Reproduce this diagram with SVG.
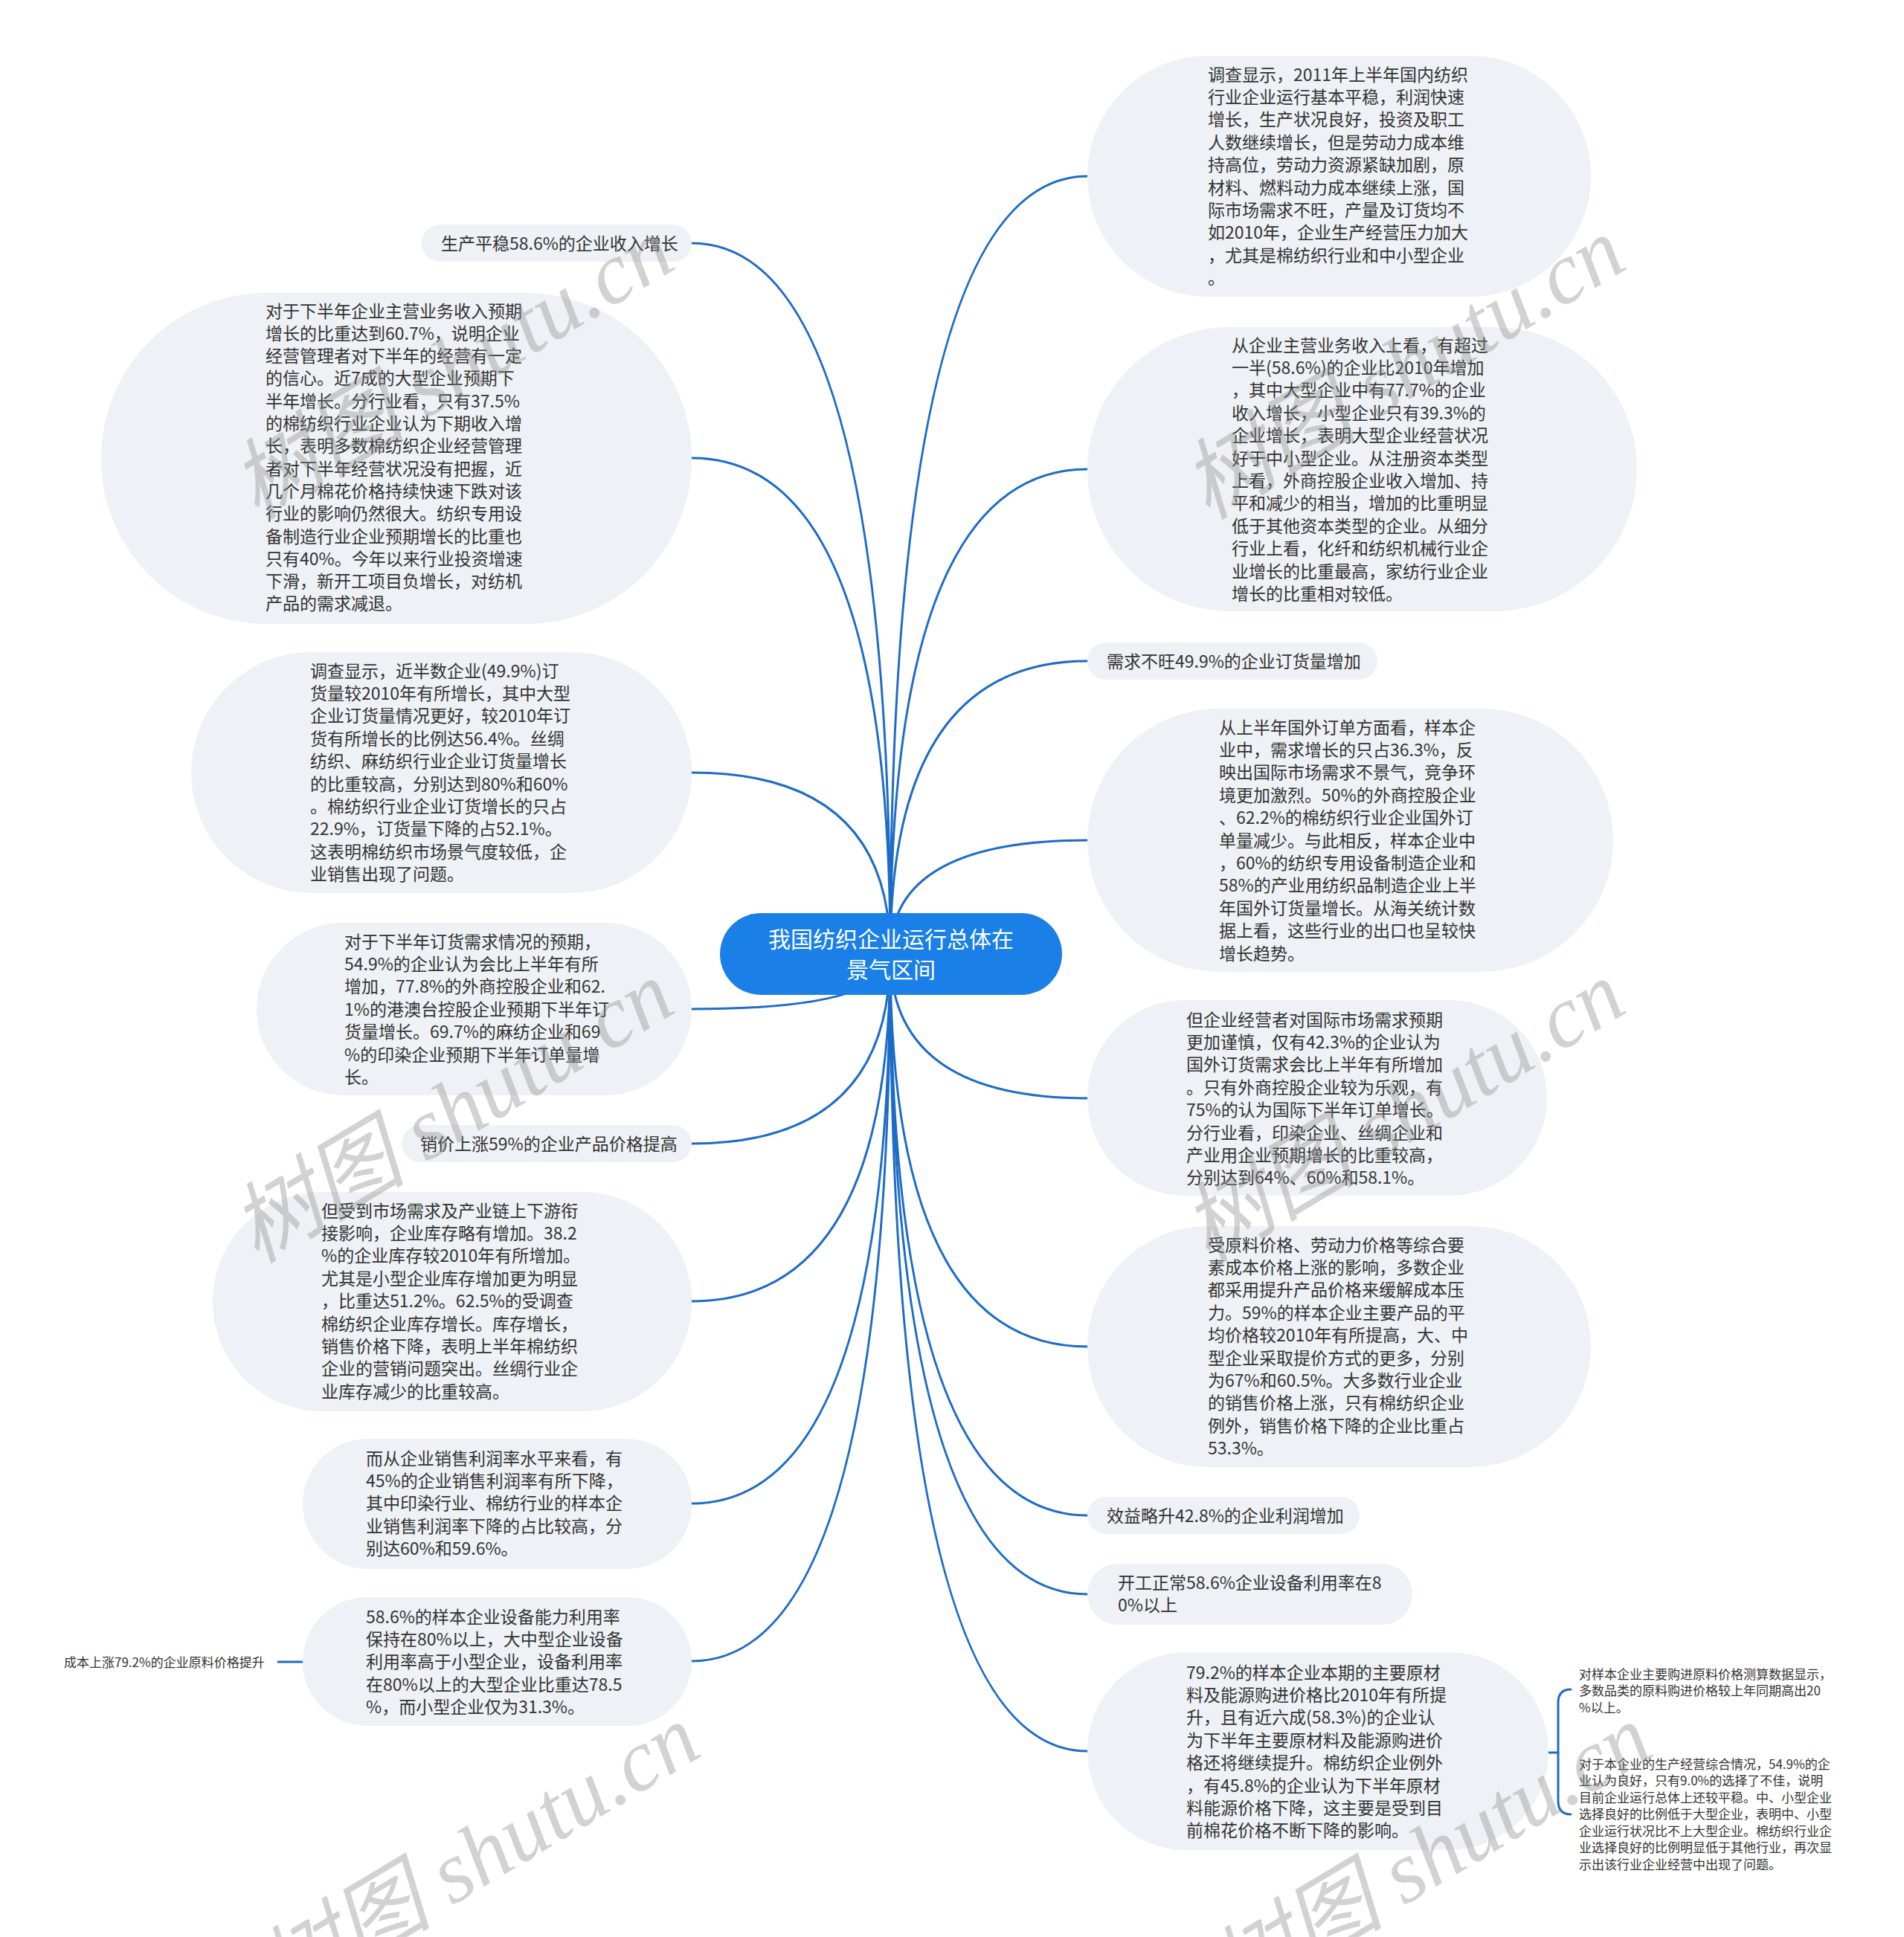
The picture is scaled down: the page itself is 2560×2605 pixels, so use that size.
<svg xmlns="http://www.w3.org/2000/svg" width="2560" height="2605" viewBox="0 0 2560 2605">
<style>
.bg{fill:#ffffff}
.node rect{fill:#eef1f5}
.t{font-family:"Noto Sans CJK SC","Liberation Sans",sans-serif;font-size:23px;fill:#333333}
.s{font-size:17px}
#root rect{fill:#1a7fe6}
#root text{font-family:"Noto Sans CJK SC","Liberation Sans",sans-serif;font-size:30px;fill:#ffffff;text-anchor:middle}
#connectors path{fill:none;stroke:#1c6cc8;stroke-width:3;stroke-linecap:round}
.wm{font-family:"Liberation Serif","Noto Sans CJK SC",serif;font-style:italic;font-size:118px;fill:#8c8c8c;opacity:0.38}
</style>
<rect class="bg" x="0" y="0" width="2560" height="2605"/>
<g id="connectors">
<path d="M1197 1283 Q1197 237 1462 237"/>
<path d="M1197 1283 Q1197 631 1462 631"/>
<path d="M1197 1283 Q1197 889 1462 889"/>
<path d="M1197 1283 Q1197 1130 1462 1130"/>
<path d="M1197 1283 Q1197 1477 1462 1477"/>
<path d="M1197 1283 Q1197 1811 1462 1811"/>
<path d="M1197 1283 Q1197 2038 1462 2038"/>
<path d="M1197 1283 Q1197 2144 1462 2144"/>
<path d="M1197 1283 Q1197 2355 1462 2355"/>
<path d="M1197 1283 Q1197 327 930 327"/>
<path d="M1197 1283 Q1197 616 930 616"/>
<path d="M1197 1283 Q1197 1039 930 1039"/>
<path d="M1197 1283 Q1197 1357 930 1357"/>
<path d="M1197 1283 Q1197 1538 930 1538"/>
<path d="M1197 1283 Q1197 1750 930 1750"/>
<path d="M1197 1283 Q1197 2022 930 2022"/>
<path d="M1197 1283 Q1197 2234 930 2234"/>
<path d="M407 2235 H374"/>
<path d="M2082 2357 H2095"/>
<path d="M2112 2272 Q2095 2272 2095 2290 V2422 Q2095 2440 2112 2440"/>
</g>

<g id="R1" class="node"><rect x="1462" y="75" width="677" height="324" rx="162"/>
<text class="t" x="1624" y="108.5"><tspan x="1624">调查显示，2011年上半年国内纺织</tspan><tspan x="1624" dy="30.4">行业企业运行基本平稳，利润快速</tspan><tspan x="1624" dy="30.4">增长，生产状况良好，投资及职工</tspan><tspan x="1624" dy="30.4">人数继续增长，但是劳动力成本维</tspan><tspan x="1624" dy="30.4">持高位，劳动力资源紧缺加剧，原</tspan><tspan x="1624" dy="30.4">材料、燃料动力成本继续上涨，国</tspan><tspan x="1624" dy="30.4">际市场需求不旺，产量及订货均不</tspan><tspan x="1624" dy="30.4">如2010年，企业生产经营压力加大</tspan><tspan x="1624" dy="30.4">，尤其是棉纺织行业和中小型企业</tspan><tspan x="1624" dy="30.4">。</tspan></text></g>

<g id="R2" class="node"><rect x="1462" y="440" width="739" height="382" rx="191"/>
<text class="t" x="1656" y="472.5"><tspan x="1656">从企业主营业务收入上看，有超过</tspan><tspan x="1656" dy="30.4">一半(58.6%)的企业比2010年增加</tspan><tspan x="1656" dy="30.4">，其中大型企业中有77.7%的企业</tspan><tspan x="1656" dy="30.4">收入增长，小型企业只有39.3%的</tspan><tspan x="1656" dy="30.4">企业增长，表明大型企业经营状况</tspan><tspan x="1656" dy="30.4">好于中小型企业。从注册资本类型</tspan><tspan x="1656" dy="30.4">上看，外商控股企业收入增加、持</tspan><tspan x="1656" dy="30.4">平和减少的相当，增加的比重明显</tspan><tspan x="1656" dy="30.4">低于其他资本类型的企业。从细分</tspan><tspan x="1656" dy="30.4">行业上看，化纤和纺织机械行业企</tspan><tspan x="1656" dy="30.4">业增长的比重最高，家纺行业企业</tspan><tspan x="1656" dy="30.4">增长的比重相对较低。</tspan></text></g>

<g id="R3" class="node"><rect x="1462" y="864" width="390" height="50" rx="25"/>
<text class="t" x="1488" y="897.5">需求不旺49.9%的企业订货量增加</text></g>

<g id="R4" class="node"><rect x="1462" y="953" width="707" height="354" rx="177"/>
<text class="t" x="1639" y="986.5"><tspan x="1639">从上半年国外订单方面看，样本企</tspan><tspan x="1639" dy="30.4">业中，需求增长的只占36.3%，反</tspan><tspan x="1639" dy="30.4">映出国际市场需求不景气，竞争环</tspan><tspan x="1639" dy="30.4">境更加激烈。50%的外商控股企业</tspan><tspan x="1639" dy="30.4">、62.2%的棉纺织行业企业国外订</tspan><tspan x="1639" dy="30.4">单量减少。与此相反，样本企业中</tspan><tspan x="1639" dy="30.4">，60%的纺织专用设备制造企业和</tspan><tspan x="1639" dy="30.4">58%的产业用纺织品制造企业上半</tspan><tspan x="1639" dy="30.4">年国外订货量增长。从海关统计数</tspan><tspan x="1639" dy="30.4">据上看，这些行业的出口也呈较快</tspan><tspan x="1639" dy="30.4">增长趋势。</tspan></text></g>

<g id="R5" class="node"><rect x="1462" y="1345" width="618" height="263" rx="131"/>
<text class="t" x="1595" y="1379.5"><tspan x="1595">但企业经营者对国际市场需求预期</tspan><tspan x="1595" dy="30.4">更加谨慎，仅有42.3%的企业认为</tspan><tspan x="1595" dy="30.4">国外订货需求会比上半年有所增加</tspan><tspan x="1595" dy="30.4">。只有外商控股企业较为乐观，有</tspan><tspan x="1595" dy="30.4">75%的认为国际下半年订单增长。</tspan><tspan x="1595" dy="30.4">分行业看，印染企业、丝绸企业和</tspan><tspan x="1595" dy="30.4">产业用企业预期增长的比重较高，</tspan><tspan x="1595" dy="30.4">分别达到64%、60%和58.1%。</tspan></text></g>

<g id="R6" class="node"><rect x="1462" y="1649" width="677" height="324" rx="162"/>
<text class="t" x="1624" y="1682.5"><tspan x="1624">受原料价格、劳动力价格等综合要</tspan><tspan x="1624" dy="30.4">素成本价格上涨的影响，多数企业</tspan><tspan x="1624" dy="30.4">都采用提升产品价格来缓解成本压</tspan><tspan x="1624" dy="30.4">力。59%的样本企业主要产品的平</tspan><tspan x="1624" dy="30.4">均价格较2010年有所提高，大、中</tspan><tspan x="1624" dy="30.4">型企业采取提价方式的更多，分别</tspan><tspan x="1624" dy="30.4">为67%和60.5%。大多数行业企业</tspan><tspan x="1624" dy="30.4">的销售价格上涨，只有棉纺织企业</tspan><tspan x="1624" dy="30.4">例外，销售价格下降的企业比重占</tspan><tspan x="1624" dy="30.4">53.3%。</tspan></text></g>

<g id="R7" class="node"><rect x="1462" y="2013" width="366" height="50" rx="25"/>
<text class="t" x="1488" y="2046.5">效益略升42.8%的企业利润增加</text></g>

<g id="R8" class="node"><rect x="1462" y="2103" width="437" height="82" rx="41"/>
<text class="t" x="1503" y="2136.5"><tspan x="1503">开工正常58.6%企业设备利用率在8</tspan><tspan x="1503" dy="30.4">0%以上</tspan></text></g>

<g id="R9" class="node"><rect x="1462" y="2222" width="620" height="266" rx="133"/>
<text class="t" x="1595" y="2257.5"><tspan x="1595">79.2%的样本企业本期的主要原材</tspan><tspan x="1595" dy="30.4">料及能源购进价格比2010年有所提</tspan><tspan x="1595" dy="30.4">升，且有近六成(58.3%)的企业认</tspan><tspan x="1595" dy="30.4">为下半年主要原材料及能源购进价</tspan><tspan x="1595" dy="30.4">格还将继续提升。棉纺织企业例外</tspan><tspan x="1595" dy="30.4">，有45.8%的企业认为下半年原材</tspan><tspan x="1595" dy="30.4">料能源价格下降，这主要是受到目</tspan><tspan x="1595" dy="30.4">前棉花价格不断下降的影响。</tspan></text></g>

<g id="C1" class="node">
<text class="t s" x="2123" y="2257.5"><tspan x="2123">对样本企业主要购进原料价格测算数据显示，</tspan><tspan x="2123" dy="22.5">多数品类的原料购进价格较上年同期高出20</tspan><tspan x="2123" dy="22.5">%以上。</tspan></text></g>

<g id="C2" class="node">
<text class="t s" x="2123" y="2378.5"><tspan x="2123">对于本企业的生产经营综合情况，54.9%的企</tspan><tspan x="2123" dy="22.5">业认为良好，只有9.0%的选择了不佳，说明</tspan><tspan x="2123" dy="22.5">目前企业运行总体上还较平稳。中、小型企业</tspan><tspan x="2123" dy="22.5">选择良好的比例低于大型企业，表明中、小型</tspan><tspan x="2123" dy="22.5">企业运行状况比不上大型企业。棉纺织行业企</tspan><tspan x="2123" dy="22.5">业选择良好的比例明显低于其他行业，再次显</tspan><tspan x="2123" dy="22.5">示出该行业企业经营中出现了问题。</tspan></text></g>

<g id="L1" class="node"><rect x="567" y="302" width="363" height="50" rx="25"/>
<text class="t" x="593" y="335.5">生产平稳58.6%的企业收入增长</text></g>

<g id="L2" class="node"><rect x="136" y="394" width="794" height="445" rx="222"/>
<text class="t" x="357" y="426.5"><tspan x="357">对于下半年企业主营业务收入预期</tspan><tspan x="357" dy="30.3">增长的比重达到60.7%，说明企业</tspan><tspan x="357" dy="30.3">经营管理者对下半年的经营有一定</tspan><tspan x="357" dy="30.3">的信心。近7成的大型企业预期下</tspan><tspan x="357" dy="30.3">半年增长。分行业看，只有37.5%</tspan><tspan x="357" dy="30.3">的棉纺织行业企业认为下期收入增</tspan><tspan x="357" dy="30.3">长，表明多数棉纺织企业经营管理</tspan><tspan x="357" dy="30.3">者对下半年经营状况没有把握，近</tspan><tspan x="357" dy="30.3">几个月棉花价格持续快速下跌对该</tspan><tspan x="357" dy="30.3">行业的影响仍然很大。纺织专用设</tspan><tspan x="357" dy="30.3">备制造行业企业预期增长的比重也</tspan><tspan x="357" dy="30.3">只有40%。今年以来行业投资增速</tspan><tspan x="357" dy="30.3">下滑，新开工项目负增长，对纺机</tspan><tspan x="357" dy="30.3">产品的需求减退。</tspan></text></g>

<g id="L3" class="node"><rect x="257" y="877" width="673" height="324" rx="162"/>
<text class="t" x="417" y="910.5"><tspan x="417">调查显示，近半数企业(49.9%)订</tspan><tspan x="417" dy="30.4">货量较2010年有所增长，其中大型</tspan><tspan x="417" dy="30.4">企业订货量情况更好，较2010年订</tspan><tspan x="417" dy="30.4">货有所增长的比例达56.4%。丝绸</tspan><tspan x="417" dy="30.4">纺织、麻纺织行业企业订货量增长</tspan><tspan x="417" dy="30.4">的比重较高，分别达到80%和60%</tspan><tspan x="417" dy="30.4">。棉纺织行业企业订货增长的只占</tspan><tspan x="417" dy="30.4">22.9%，订货量下降的占52.1%。</tspan><tspan x="417" dy="30.4">这表明棉纺织市场景气度较低，企</tspan><tspan x="417" dy="30.4">业销售出现了问题。</tspan></text></g>

<g id="L4" class="node"><rect x="345" y="1241" width="585" height="232" rx="116"/>
<text class="t" x="463" y="1274.5"><tspan x="463">对于下半年订货需求情况的预期，</tspan><tspan x="463" dy="30.4">54.9%的企业认为会比上半年有所</tspan><tspan x="463" dy="30.4">增加，77.8%的外商控股企业和62.</tspan><tspan x="463" dy="30.4">1%的港澳台控股企业预期下半年订</tspan><tspan x="463" dy="30.4">货量增长。69.7%的麻纺企业和69</tspan><tspan x="463" dy="30.4">%的印染企业预期下半年订单量增</tspan><tspan x="463" dy="30.4">长。</tspan></text></g>

<g id="L5" class="node"><rect x="540" y="1513" width="390" height="50" rx="25"/>
<text class="t" x="565" y="1546.5">销价上涨59%的企业产品价格提高</text></g>

<g id="L6" class="node"><rect x="286" y="1603" width="644" height="295" rx="147"/>
<text class="t" x="432" y="1636.5"><tspan x="432">但受到市场需求及产业链上下游衔</tspan><tspan x="432" dy="30.4">接影响，企业库存略有增加。38.2</tspan><tspan x="432" dy="30.4">%的企业库存较2010年有所增加。</tspan><tspan x="432" dy="30.4">尤其是小型企业库存增加更为明显</tspan><tspan x="432" dy="30.4">，比重达51.2%。62.5%的受调查</tspan><tspan x="432" dy="30.4">棉纺织企业库存增长。库存增长，</tspan><tspan x="432" dy="30.4">销售价格下降，表明上半年棉纺织</tspan><tspan x="432" dy="30.4">企业的营销问题突出。丝绸行业企</tspan><tspan x="432" dy="30.4">业库存减少的比重较高。</tspan></text></g>

<g id="L7" class="node"><rect x="407" y="1935" width="523" height="175" rx="87"/>
<text class="t" x="492" y="1969.5"><tspan x="492">而从企业销售利润率水平来看，有</tspan><tspan x="492" dy="30.4">45%的企业销售利润率有所下降，</tspan><tspan x="492" dy="30.4">其中印染行业、棉纺行业的样本企</tspan><tspan x="492" dy="30.4">业销售利润率下降的占比较高，分</tspan><tspan x="492" dy="30.4">别达60%和59.6%。</tspan></text></g>

<g id="L8" class="node"><rect x="407" y="2148" width="523" height="173" rx="86"/>
<text class="t" x="492" y="2182.5"><tspan x="492">58.6%的样本企业设备能力利用率</tspan><tspan x="492" dy="30.4">保持在80%以上，大中型企业设备</tspan><tspan x="492" dy="30.4">利用率高于小型企业，设备利用率</tspan><tspan x="492" dy="30.4">在80%以上的大型企业比重达78.5</tspan><tspan x="492" dy="30.4">%，而小型企业仅为31.3%。</tspan></text></g>

<g id="L8c" class="node">
<text class="t s" x="86" y="2241.5">成本上涨79.2%的企业原料价格提升</text></g>

<g id="root"><rect x="968" y="1228" width="460" height="110" rx="55"/>
<text x="1198" y="1274">我国纺织企业运行总体在</text>
<text x="1198" y="1315">景气区间</text></g>

<g id="watermarks">
<text class="wm" transform="translate(345 700) rotate(-31)">树图 shutu.cn</text>
<text class="wm" transform="translate(1624 700) rotate(-31)">树图 shutu.cn</text>
<text class="wm" transform="translate(345 1700) rotate(-31)">树图 shutu.cn</text>
<text class="wm" transform="translate(1624 1700) rotate(-31)">树图 shutu.cn</text>
<text class="wm" transform="translate(380 2700) rotate(-31)">树图 shutu.cn</text>
<text class="wm" transform="translate(1660 2700) rotate(-31)">树图 shutu.cn</text>
</g>
</svg>
